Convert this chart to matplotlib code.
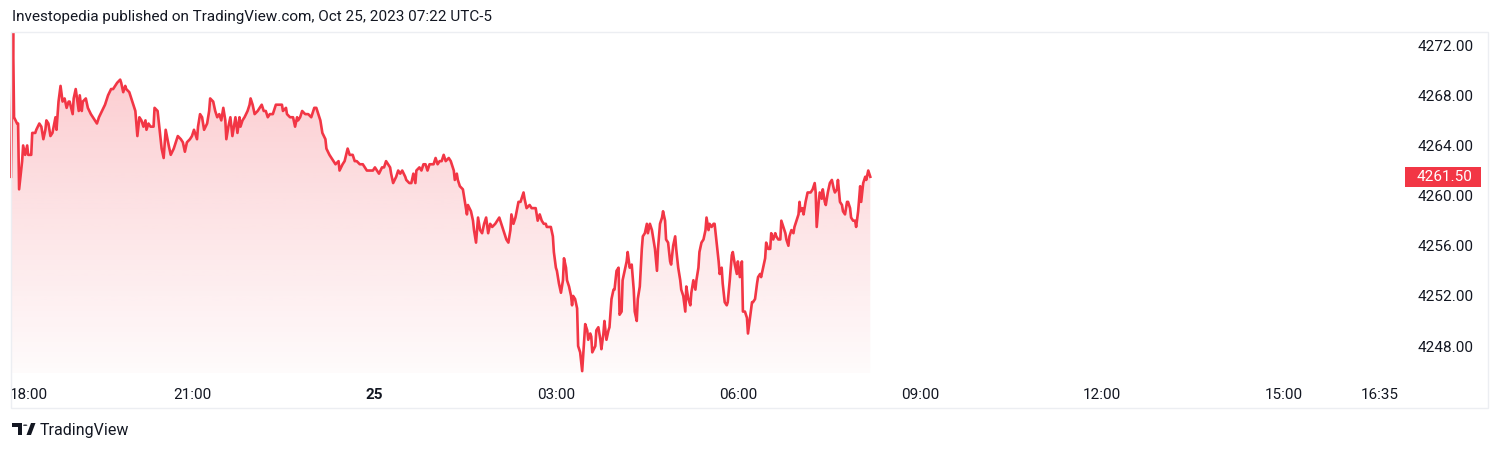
import matplotlib.pyplot as plt
import numpy as np
from matplotlib.patches import Rectangle, Polygon, Circle

plt.rcParams["font.family"] = ["Roboto", "DejaVu Sans"]

# minutes after 18:00 (Oct 24) and E-mini S&P price
minutes = [1, 3, 4, 7, 8, 9, 12, 13, 15, 17, 18, 21, 22, 25, 26, 29, 31, 33, 35, 36,
           38, 40, 42, 45, 46, 48, 50, 52, 54, 56, 58, 59, 62, 63, 65, 68, 69, 71, 72, 75,
           77, 80, 82, 86, 88, 91, 94, 97, 100, 102, 106, 109, 110, 112, 114, 115, 118, 120, 122, 124,
           126, 128, 130, 132, 134, 135, 137, 139, 142, 143, 146, 148, 150, 152, 154, 157, 159, 162, 164, 166,
           169, 171, 173, 175, 178, 180, 182, 185, 186, 188, 190, 192, 195, 197, 198, 201, 203, 205, 207, 209,
           211, 213, 214, 216, 218, 220, 223, 225, 227, 228, 230, 232, 235, 237, 238, 240, 242, 245, 247, 249,
           251, 253, 255, 257, 260, 263, 265, 269, 270, 273, 274, 277, 280, 282, 284, 285, 287, 289, 292, 295,
           298, 301, 303, 305, 307, 309, 312, 313, 316, 318, 320, 322, 325, 326, 329, 331, 334, 336, 339, 341,
           343, 346, 349, 351, 353, 356, 359, 361, 363, 365, 368, 370, 372, 374, 376, 377, 379, 382, 384, 386,
           388, 391, 392, 395, 397, 399, 401, 402, 405, 407, 409, 411, 413, 415, 417, 419, 421, 423, 425, 427,
           429, 431, 434, 436, 438, 439, 440, 442, 443, 445, 448, 450, 452, 453, 456, 458, 459, 461, 463, 465,
           467, 469, 471, 473, 475, 477, 480, 482, 484, 486, 489, 491, 493, 495, 496, 498, 500, 503, 505, 508,
           509, 511, 514, 516, 518, 520, 522, 524, 526, 528, 530, 531, 533, 535, 537, 538, 540, 541, 543, 545,
           547, 548, 550, 551, 553, 555, 556, 557, 559, 561, 562, 564, 566, 567, 569, 571, 572, 574, 575, 576,
           579, 580, 582, 584, 585, 587, 588, 590, 592, 593, 595, 597, 598, 600, 602, 603, 605, 606, 608, 610,
           611, 613, 615, 617, 618, 620, 621, 623, 625, 626, 628, 630, 631, 633, 635, 636, 638, 640, 641, 643,
           645, 646, 648, 649, 651, 653, 654, 656, 658, 659, 661, 663, 664, 666, 668, 669, 671, 673, 674, 676,
           678, 679, 681, 682, 684, 686, 688, 689, 691, 692, 694, 696, 697, 699, 701, 702, 704, 705, 707, 709,
           710, 712, 714, 715, 717, 719, 720, 722, 724, 725, 727, 729, 730, 732, 734, 735, 737, 739, 740, 742,
           743, 745, 747, 748, 750, 752, 753, 755, 757, 758, 760, 762, 763, 765, 767, 768, 770, 771, 773, 775,
           776, 778, 780, 781, 782, 784, 785, 787, 789, 791, 792, 794, 796, 797, 798, 800, 801, 803, 804, 806,
           807, 809, 811, 813, 815, 816, 818, 819, 821, 823, 824, 826, 828, 829, 831, 832, 834, 836, 837, 839,
           841, 842, 844, 846, 847, 849, 851]

prices = [4261.5, 4273.0, 4266.25, 4265.75, 4265.75, 4260.5, 4262.75, 4264.0, 4263.25, 4264.0,
          4263.25, 4263.25, 4265.0, 4265.0, 4265.25, 4265.75, 4265.5, 4264.5, 4265.25, 4266.0,
          4265.75, 4264.75, 4265.0, 4266.25, 4265.25, 4267.5, 4268.75, 4267.5, 4267.75, 4267.0,
          4267.5, 4267.5, 4266.5, 4267.75, 4268.5, 4266.75, 4268.0, 4266.75, 4267.5, 4267.75,
          4267.0, 4266.5, 4266.25, 4265.75, 4266.25, 4266.75, 4267.25, 4268.0, 4268.5, 4268.5,
          4269.0, 4269.25, 4269.0, 4268.25, 4268.75, 4268.5, 4268.25, 4267.75, 4267.25, 4266.75,
          4264.75, 4266.25, 4266.0, 4265.5, 4266.0, 4265.25, 4265.75, 4265.5, 4265.5, 4267.0,
          4266.75, 4265.25, 4263.75, 4263.0, 4265.25, 4264.0, 4263.25, 4263.75, 4264.25, 4264.75,
          4264.5, 4264.25, 4263.5, 4264.25, 4264.5, 4264.75, 4265.25, 4264.5, 4265.5, 4266.5,
          4266.25, 4265.25, 4265.75, 4266.75, 4267.75, 4267.5, 4266.75, 4266.25, 4266.5, 4266.0,
          4267.0, 4266.0, 4264.5, 4265.5, 4266.25, 4264.75, 4266.25, 4265.0, 4266.25, 4265.5,
          4266.0, 4266.25, 4266.75, 4267.25, 4267.75, 4267.25, 4266.5, 4266.75, 4267.0, 4267.25,
          4266.75, 4266.75, 4266.25, 4266.5, 4266.5, 4267.25, 4267.25, 4267.25, 4266.75, 4267.0,
          4266.5, 4266.25, 4266.25, 4265.5, 4266.25, 4266.0, 4266.25, 4266.75, 4266.5, 4266.5,
          4266.25, 4267.0, 4267.0, 4266.5, 4266.0, 4265.0, 4264.5, 4263.75, 4263.25, 4263.0,
          4262.75, 4262.5, 4262.75, 4262.0, 4262.5, 4262.75, 4263.75, 4263.25, 4263.25, 4262.75,
          4262.75, 4262.5, 4262.5, 4262.25, 4262.0, 4262.0, 4262.0, 4262.25, 4262.0, 4261.75,
          4262.25, 4262.25, 4262.75, 4262.5, 4262.25, 4261.75, 4261.0, 4261.5, 4262.0, 4261.75,
          4262.0, 4261.5, 4261.25, 4261.0, 4261.0, 4261.75, 4261.0, 4262.0, 4262.25, 4262.0,
          4262.5, 4262.5, 4262.0, 4262.5, 4262.5, 4262.5, 4263.0, 4262.5, 4262.75, 4262.75,
          4263.25, 4262.75, 4263.0, 4262.75, 4262.25, 4262.0, 4261.25, 4261.75, 4261.25, 4260.75,
          4260.5, 4259.5, 4258.5, 4259.25, 4258.75, 4258.0, 4257.25, 4256.25, 4258.25, 4257.25,
          4257.0, 4257.75, 4258.25, 4257.0, 4257.75, 4257.5, 4257.75, 4258.0, 4258.25, 4257.75,
          4257.0, 4256.5, 4256.25, 4257.25, 4258.5, 4257.75, 4258.25, 4259.5, 4259.5, 4260.25,
          4259.75, 4259.0, 4259.25, 4259.0, 4259.0, 4259.0, 4258.0, 4258.5, 4258.0, 4257.75,
          4257.75, 4257.5, 4257.5, 4257.5, 4256.75, 4255.5, 4254.25, 4254.0, 4253.0, 4252.25,
          4253.25, 4255.0, 4254.25, 4253.25, 4252.75, 4252.0, 4251.25, 4252.0, 4251.75, 4251.0,
          4248.0, 4247.5, 4246.0, 4247.25, 4249.75, 4249.25, 4248.5, 4249.0, 4248.75, 4247.5,
          4248.0, 4249.25, 4249.5, 4248.5, 4247.75, 4249.0, 4250.0, 4248.5, 4249.25, 4249.5,
          4251.75, 4252.5, 4252.5, 4254.0, 4254.25, 4250.5, 4250.75, 4253.25, 4254.0, 4254.75,
          4255.5, 4254.25, 4254.5, 4252.5, 4250.75, 4250.0, 4251.75, 4252.75, 4255.75, 4256.75,
          4257.0, 4257.75, 4257.0, 4257.75, 4257.25, 4256.75, 4255.75, 4254.0, 4255.75, 4257.75,
          4258.25, 4258.75, 4258.0, 4256.5, 4256.25, 4254.75, 4254.5, 4256.0, 4256.75, 4255.75,
          4254.25, 4253.25, 4252.5, 4252.0, 4250.75, 4252.75, 4251.75, 4251.25, 4252.25, 4253.25,
          4252.5, 4253.25, 4254.25, 4255.5, 4256.25, 4256.5, 4257.25, 4258.25, 4257.25, 4257.75,
          4257.5, 4257.75, 4257.75, 4256.25, 4254.75, 4253.75, 4254.25, 4253.0, 4251.5, 4251.25,
          4251.5, 4253.25, 4255.25, 4255.5, 4254.5, 4253.75, 4254.75, 4253.5, 4254.75, 4250.75,
          4250.75, 4250.25, 4249.0, 4250.25, 4251.5, 4251.5, 4251.75, 4253.0, 4253.5, 4253.75,
          4253.5, 4254.25, 4255.0, 4256.25, 4255.75, 4255.75, 4257.0, 4256.5, 4257.0, 4256.75,
          4256.5, 4256.5, 4258.0, 4257.5, 4257.0, 4256.5, 4256.0, 4256.75, 4257.25, 4257.0,
          4257.5, 4258.0, 4258.5, 4259.5, 4258.75, 4259.0, 4258.5, 4259.5, 4260.25, 4260.25,
          4260.25, 4260.5, 4261.0, 4260.25, 4257.5, 4259.5, 4260.25, 4259.75, 4260.5, 4259.5,
          4259.25, 4260.25, 4261.0, 4261.25, 4260.5, 4260.25, 4260.5, 4261.25, 4259.5, 4259.25,
          4258.75, 4258.5, 4259.5, 4259.5, 4259.0, 4258.25, 4258.0, 4258.0, 4257.5, 4258.75,
          4260.75, 4259.5, 4261.0, 4261.5, 4261.25, 4262.0, 4261.5]

tick_minutes = [0, 180, 360, 540, 720, 900, 1080, 1260, 1355]
tick_labels = ["18:00", "21:00", "25", "03:00", "06:00", "09:00", "12:00", "15:00", "16:35"]
price_ticks = [4248, 4252, 4256, 4260, 4264, 4268, 4272]
last_price = prices[-1]

red = "#F23645"
text_col = "#131722"
W, H = 1500, 450

fig = plt.figure(figsize=(15, 4.5), dpi=100)
ax = fig.add_axes([10 / W, 1 - 373 / H, 1390 / W, 341 / H])

x = np.array(minutes)
y = np.array(prices)
ylo, yhi = 4245.85, 4273.05

# gradient area under the line
poly = ax.fill_between(x, y, ylo, color="none", lw=0)
grad = np.zeros((256, 1, 4))
grad[:, 0, 0] = 242 / 255
grad[:, 0, 1] = 54 / 255
grad[:, 0, 2] = 69 / 255
grad[:, 0, 3] = np.linspace(0.28, 0.02, 256)
img = ax.imshow(grad, extent=[x[0], x[-1], ylo, yhi], aspect="auto", origin="upper", zorder=1)
img.set_clip_path(poly.get_paths()[0], transform=ax.transData)

ax.plot(x, y, color=red, lw=1.9, zorder=3, solid_joinstyle="round")

ax.set_xlim(0, 1375)
ax.set_ylim(ylo, yhi)

for s in ax.spines.values():
    s.set_visible(False)

ax.set_xticks(tick_minutes)
ax.set_xticklabels(tick_labels)
ax.tick_params(axis="x", length=0, pad=11, labelsize=11, labelcolor=text_col)
ax.get_xticklabels()[0].set_ha("left")
ax.get_xticklabels()[2].set_fontweight("bold")

ax.yaxis.tick_right()
ax.set_yticks(price_ticks)
ax.set_yticklabels(["%.2f" % v for v in price_ticks])
ax.tick_params(axis="y", length=0, pad=12.5, labelsize=11, labelcolor=text_col)

# last price tag on the price scale
tr = ax.get_yaxis_transform()
ax.add_patch(Rectangle((1.0036, last_price - 0.8), 0.0547, 1.6, transform=tr,
                       facecolor=red, edgecolor="none", clip_on=False, zorder=5))
ax.text(1.0122, last_price, "%.2f" % last_price, transform=tr, color="white",
        fontsize=11, va="center", ha="left", zorder=6, clip_on=False)

# outer frame
fig.patches.append(Rectangle((11 / W, 1 - 408 / H), 1477 / W, 376 / H, transform=fig.transFigure,
                             fill=False, edgecolor="#eceef2", lw=1))

fig.text(12 / W, 1 - 17 / H, "Investopedia published on TradingView.com, Oct 25, 2023 07:22 UTC-5",
         fontsize=11, color=text_col, va="center", ha="left")

# TradingView logo
def px(xp, yp):
    return (xp / W, 1 - yp / H)

logo = [
    Polygon([px(12, 423), px(22, 423), px(22, 435), px(17.5, 435), px(17.5, 427), px(12, 427)]),
    Circle(px(25.2, 425.2), 2.2 / W),
    Polygon([px(26.5, 435), px(31, 435), px(35.5, 423), px(31, 423)]),
]
for p in logo:
    p.set_transform(fig.transFigure)
    p.set_facecolor(text_col)
    p.set_edgecolor("none")
    fig.patches.append(p)

fig.text(40 / W, 1 - 430 / H, "TradingView", fontsize=11.5, color=text_col, va="center", ha="left")

fig.savefig("out.png", dpi=100)
